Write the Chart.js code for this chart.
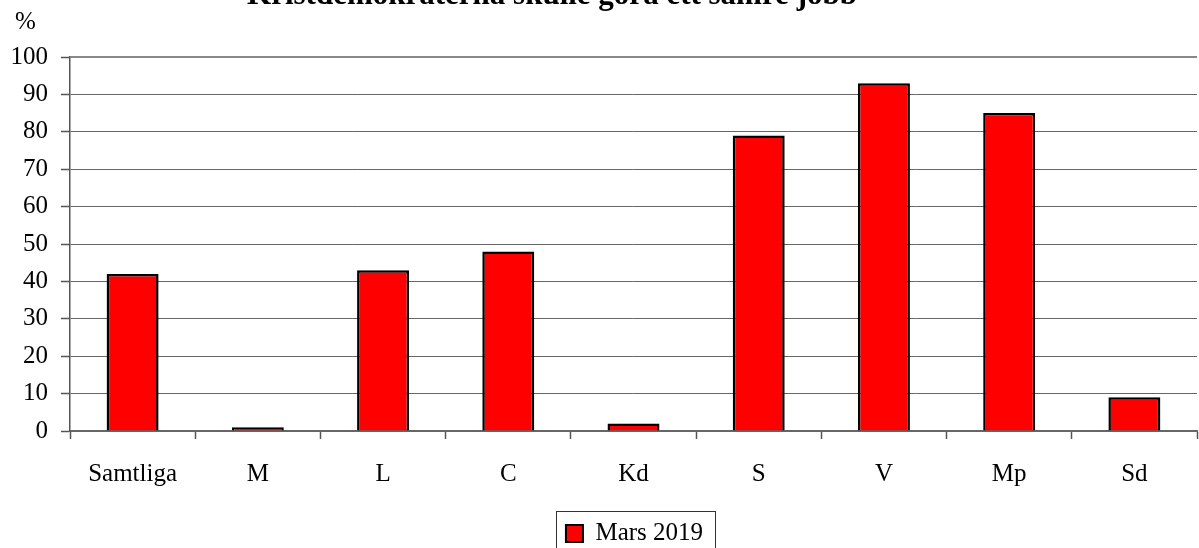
<!DOCTYPE html>
<html>
<head>
<meta charset="utf-8">
<script src="https://cdn.jsdelivr.net/npm/chart.js@4"></script>
<style>
	html, body { margin: 0; padding: 0; background: #fff; }
	#wrap { width: 1199px; height: 548px; position: relative; }
</style>
</head>
<body>
<div id="wrap"><canvas id="chart-canvas" width="1199" height="548"></canvas></div>
<script>
var chartTitle = "Kristdemokraterna skulle göra ett sämre jobb";
var axisUnit = "%";
var partyLabels = ["Samtliga", "M", "L", "C", "Kd", "S", "V", "Mp", "Sd"];
var seriesName = "Mars 2019";
var seriesValues = [42, 1, 43, 48, 2, 79, 93, 85, 9];
var yTicks = [0, 10, 20, 30, 40, 50, 60, 70, 80, 90, 100];

var fontName = "'Liberation Serif', 'Times New Roman', serif";
var fontSize = 25;
var legendShift = 36;
var legendBox = 17;

var extrasPlugin = {
	id: "extras",
	afterUpdate: function(chart) {
		// legend sits a bit right of centre in the original
		chart.legend.left += legendShift;
		chart.legend.right += legendShift;
	},
	beforeDatasetsDraw: function(chart) {
		var ctx = chart.ctx;
		var area = chart.chartArea;
		ctx.save();
		ctx.strokeStyle = "#888";
		ctx.lineWidth = 2;
		ctx.beginPath();
		ctx.moveTo(area.left, area.top);
		ctx.lineTo(area.right, area.top);
		ctx.stroke();
		ctx.restore();
	},
	afterDraw: function(chart) {
		var ctx = chart.ctx;
		var legend = chart.legend;
		var hb = legend.legendHitBoxes[0];
		var itemWidth, itemLeft;

		ctx.save();
		ctx.fillStyle = "#000";
		ctx.font = "bold 31px " + fontName;
		ctx.textAlign = "center";
		ctx.textBaseline = "alphabetic";
		ctx.fillText(chartTitle, 552, 4);

		ctx.font = fontSize + "px " + fontName;
		ctx.textAlign = "left";
		ctx.fillText(axisUnit, 15, 29);

		itemWidth = legendBox + fontSize / 2 + ctx.measureText(seriesName).width;
		itemLeft = (legend.left + legend.right) / 2 - itemWidth / 2;
		if(hb) {
			ctx.strokeStyle = "#333";
			ctx.lineWidth = 1;
			ctx.strokeRect(Math.round(itemLeft) - 9.5, Math.round(hb.top) - 9.5, Math.round(itemWidth) + 22, 60);
		}
		ctx.restore();
	}
};

window.onload = function() {
	new Chart(document.getElementById("chart-canvas"), {
		type: "bar",
		data: {
			labels: partyLabels,
			datasets: [{
				label: seriesName,
				data: seriesValues,
				backgroundColor: "#ff0000",
				borderColor: "#000000",
				borderWidth: 2.5,
				categoryPercentage: 0.83,
				barPercentage: 0.5
			}]
		},
		options: {
			responsive: false,
			animation: false,
			layout: {
				padding: { top: 57, right: 2, left: 0, bottom: -8 }
			},
			scales: {
				x: {
					afterFit: function(scale) {
						scale.height = 80;
					},
					grid: {
						offset: true,
						drawOnChartArea: false,
						tickLength: 8,
						tickWidth: 1.5,
						color: "#555"
					},
					border: { display: true, color: "#666", width: 2 },
					ticks: {
						color: "#000",
						padding: 20,
						font: { family: fontName, size: fontSize }
					}
				},
				y: {
					min: 0,
					max: 100,
					afterBuildTicks: function(scale) {
						scale.ticks = yTicks.map(function(v) { return { value: v }; });
					},
					afterFit: function(scale) {
						scale.width = 70;
					},
					grid: {
						color: "#666",
						lineWidth: 1,
						borderDash: [1, 1],
						tickLength: 9,
						tickColor: "#555",
						tickWidth: 1.5,
						tickBorderDash: []
					},
					border: { display: true, color: "#555", width: 1.5 },
					ticks: {
						color: "#000",
						padding: 13,
						font: { family: fontName, size: fontSize }
					}
				}
			},
			plugins: {
				title: { display: false },
				tooltip: { enabled: false },
				legend: {
					display: true,
					position: "bottom",
					labels: {
						color: "#000",
						boxWidth: legendBox,
						boxHeight: legendBox,
						padding: 10,
						font: { family: fontName, size: fontSize },
						generateLabels: function(chart) {
							return [{
								text: seriesName,
								fillStyle: "#ff0000",
								strokeStyle: "#000",
								lineWidth: 2,
								datasetIndex: 0
							}];
						}
					}
				}
			}
		},
		plugins: [extrasPlugin]
	});
};
</script>
</body>
</html>
